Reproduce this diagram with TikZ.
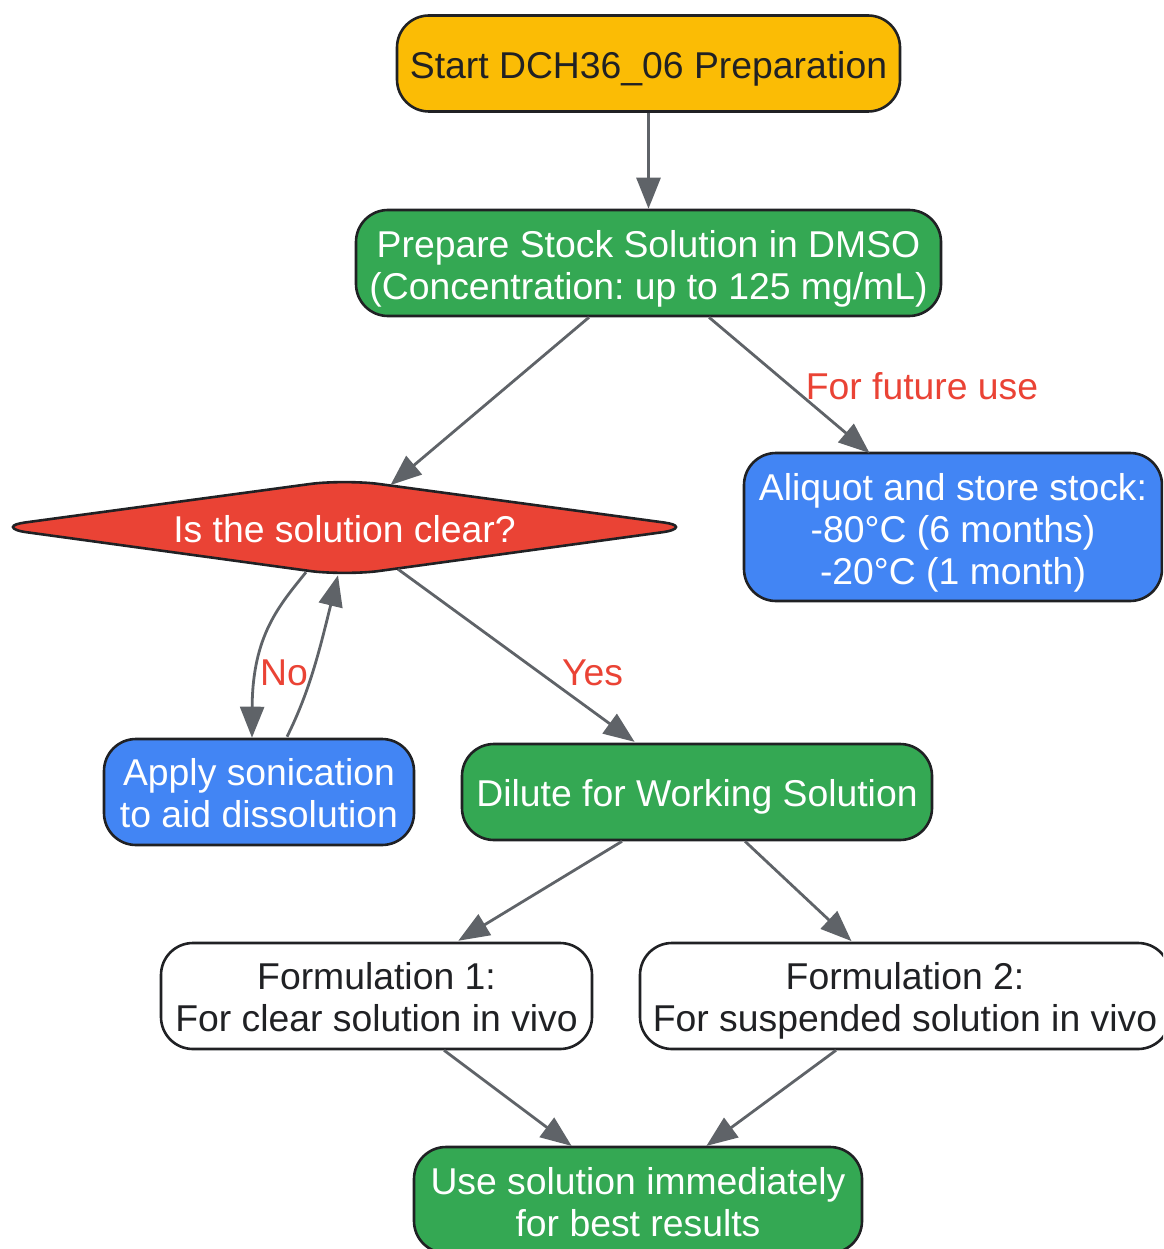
\documentclass[tikz,border=0pt]{standalone}
\usepackage{fontspec}
\setmainfont{Liberation Sans}
\usetikzlibrary{arrows.meta,calc}
\definecolor{cyellow}{HTML}{FBBC05}
\definecolor{cgreen}{HTML}{34A853}
\definecolor{cred}{HTML}{EA4335}
\definecolor{cblue}{HTML}{4285F4}
\definecolor{cink}{HTML}{202124}
\definecolor{cedge}{HTML}{5F6368}
\newcommand{\firstln}{\rule{0pt}{38pt}}
\newcommand{\firstlnb}{\rule{0pt}{36.5pt}}
\newcommand{\lastln}{\rule[-8pt]{0pt}{0pt}}
\frenchspacing
\tikzset{
  txt/.style={font=\fontsize{37.33}{42}\selectfont\frenchspacing},
  box/.style={draw=cink,line width=2.6pt,rounded corners=32pt,align=center,inner sep=0pt,
    txt,text=white},
  darktext/.style={text=cink},
  link/.style={draw=cedge,line width=2.8pt,shorten >=-2pt,-{Triangle[length=31pt,width=24pt]}},
  lab/.style={text=cred,txt,inner sep=0pt},
}
\begin{document}
\begin{tikzpicture}[x=1pt,y=-1pt]
\useasboundingbox (0,0) rectangle (1163,1249);
\clip (0,0) rectangle (1163,1249);
\node[box,darktext,fill=cyellow,minimum width=503pt,minimum height=96pt] (start) at (648.5,63.5) {\firstln Start DCH36\_06 Preparation\lastln};
\node[box,fill=cgreen,minimum width=585pt,minimum height=106pt] (stock) at (648.5,263) {\firstln Prepare Stock Solution in DMSO\\(Concentration: up to 125 mg/mL)\lastln};
\path[fill=cred,draw=cink,line width=2.6pt]
  (13,527) .. controls (13,525) and (18,523.5) .. (25,522.5)
  -- (310,484) .. controls (328,481.5) and (361,481.5) .. (379,484)
  -- (664,522.5) .. controls (671,523.5) and (676,525) .. (676,527)
  .. controls (676,529) and (671,531) .. (664,532)
  -- (379,571) .. controls (361,573.5) and (328,573.5) .. (310,571)
  -- (25,532) .. controls (18,531) and (13,529) .. (13,527) -- cycle;
\node[txt,text=white,inner sep=0pt,minimum width=663pt,minimum height=91pt] (clear) at (344.5,527.5) {\firstln Is the solution clear?\lastln};
\node[box,fill=cblue,minimum width=418pt,minimum height=148pt] (store) at (953,527) {\firstln Aliquot and store stock:\\-80°C (6 months)\\-20°C (1 month)\lastln};
\node[box,fill=cblue,minimum width=310pt,minimum height=106pt] (sonic) at (259,792) {\firstlnb Apply sonication\\to aid dissolution\lastln};
\node[box,fill=cgreen,minimum width=470pt,minimum height=96pt] (dilute) at (697,792) {\firstlnb Dilute for Working Solution\lastln};
\node[box,darktext,fill=white,minimum width=431pt,minimum height=106pt] (formone) at (376.5,996) {\firstlnb Formulation 1:\\For clear solution in vivo\lastln};
\node[box,darktext,fill=white,minimum width=530pt,minimum height=106pt] (formtwo) at (905,996) {\firstlnb Formulation 2:\\For suspended solution in vivo\lastln};
\node[box,fill=cgreen,minimum width=448pt,minimum height=106pt] (use) at (638,1200) {\firstln Use solution immediately\\for best results\lastln};

\draw[link] (start.south) -- ($(stock.north)+(0,-2)$);
\draw[link] ($(stock.south)+(-59.5,0)$) -- ($(clear.north)+(47.5,2)$);
\draw[link] ($(stock.south)+(60.5,0)$) -- ($(store.north)+(-85,0)$);
\draw[link] ($(clear.south)+(-38.5,-1)$) .. controls ($(clear.south)+(-65,32)$) and ($(clear.south)+(-92,62)$) .. ($(sonic.north)+(-7,-2)$);
\draw[link] ($(sonic.north)+(28,-1)$) .. controls ($(sonic.north)+(50,-45)$) and ($(sonic.north)+(60,-85)$) .. ($(clear.south)+(-7,4)$);
\draw[link] ($(clear.south)+(53.5,-4)$) -- ($(dilute.north)+(-64,-2)$);
\draw[link] ($(dilute.south)+(-75,0)$) -- ($(formone.north)+(83.5,-2)$);
\draw[link] ($(dilute.south)+(48,0)$) -- ($(formtwo.north)+(-55,-2)$);
\draw[link] ($(formone.south)+(67.5,0)$) -- ($(use.north)+(-68,-1)$);
\draw[link] ($(formtwo.south)+(-69,0)$) -- ($(use.north)+(70,-1)$);

\node[lab] (lfuture) at (922,386) {For future use};
\node[lab] (lyes) at (592.5,673) {Yes};
\node[lab] (lno) at (284,673) {No};
\end{tikzpicture}
\end{document}
